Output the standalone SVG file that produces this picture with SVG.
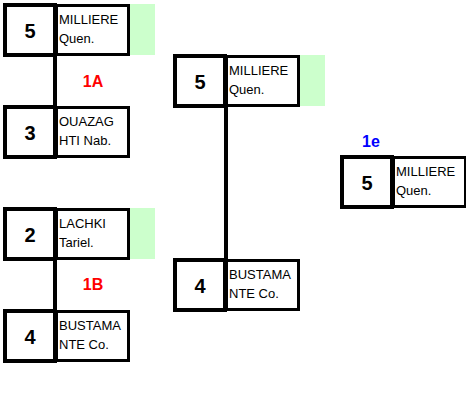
<svg xmlns="http://www.w3.org/2000/svg" width="466" height="414" viewBox="0 0 466 414">
<style>
.green{fill:#ccffcc;stroke:none}
.name{fill:#fff;stroke:#000;stroke-width:3}
.seed{fill:#fff;stroke:#000;stroke-width:4}
.num{font-family:"Liberation Sans",Arial,sans-serif;font-weight:bold;font-size:20px;text-anchor:middle;fill:#000}
.nm{font-family:"Liberation Sans",Arial,sans-serif;font-size:13px;fill:#000}
.lbl{font-family:"Liberation Sans",Arial,sans-serif;font-weight:bold;font-size:16px;text-anchor:middle}
.conn{stroke:#000;stroke-width:4;fill:none}
</style>
<rect width="466" height="414" fill="#fff"/>
<g id="connectors">
<line class="conn" x1="55" y1="56" x2="55" y2="106"/>
<line class="conn" x1="55" y1="260" x2="55" y2="310"/>
<line class="conn" x1="226" y1="107" x2="226" y2="259"/>
</g>
<g id="n1" transform="translate(3,3)">
<rect class="green" x="126" y="1" width="26" height="51"/>
<rect class="name" x="53.5" y="2.5" width="72" height="49"/>
<rect class="seed" x="2" y="2" width="50" height="50"/>
<text class="num" x="27" y="35">5</text>
<text class="nm" x="56" y="21">MILLIERE</text>
<text class="nm" x="56" y="40">Quen.</text>
</g>
<g id="n2" transform="translate(3,105)">
<rect class="name" x="53.5" y="2.5" width="72" height="49"/>
<rect class="seed" x="2" y="2" width="50" height="50"/>
<text class="num" x="27" y="35">3</text>
<text class="nm" x="56" y="21">OUAZAG</text>
<text class="nm" x="56" y="40">HTI Nab.</text>
</g>
<g id="n3" transform="translate(3,207)">
<rect class="green" x="126" y="1" width="26" height="51"/>
<rect class="name" x="53.5" y="2.5" width="72" height="49"/>
<rect class="seed" x="2" y="2" width="50" height="50"/>
<text class="num" x="27" y="35">2</text>
<text class="nm" x="56" y="21">LACHKI</text>
<text class="nm" x="56" y="40">Tariel.</text>
</g>
<g id="n4" transform="translate(3,309)">
<rect class="name" x="53.5" y="2.5" width="72" height="49"/>
<rect class="seed" x="2" y="2" width="50" height="50"/>
<text class="num" x="27" y="35">4</text>
<text class="nm" x="56" y="21">BUSTAMA</text>
<text class="nm" x="56" y="40">NTE Co.</text>
</g>
<g id="n5" transform="translate(173,54)">
<rect class="green" x="126" y="1" width="26" height="51"/>
<rect class="name" x="53.5" y="2.5" width="72" height="49"/>
<rect class="seed" x="2" y="2" width="50" height="50"/>
<text class="num" x="27" y="35">5</text>
<text class="nm" x="56" y="21">MILLIERE</text>
<text class="nm" x="56" y="40">Quen.</text>
</g>
<g id="n6" transform="translate(173,258)">
<rect class="name" x="53.5" y="2.5" width="72" height="49"/>
<rect class="seed" x="2" y="2" width="50" height="50"/>
<text class="num" x="27" y="35">4</text>
<text class="nm" x="56" y="21">BUSTAMA</text>
<text class="nm" x="56" y="40">NTE Co.</text>
</g>
<g id="n7" transform="translate(340,155)">
<rect class="name" x="53.5" y="2.5" width="72" height="49"/>
<rect class="seed" x="2" y="2" width="50" height="50"/>
<text class="num" x="27" y="35">5</text>
<text class="nm" x="56" y="21">MILLIERE</text>
<text class="nm" x="56" y="40">Quen.</text>
</g>
<g id="labels">
<text class="lbl" x="93" y="87" fill="#ff0000">1A</text>
<text class="lbl" x="93" y="290" fill="#ff0000">1B</text>
<text class="lbl" x="371" y="147" fill="#0000ff">1e</text>
</g>
</svg>
